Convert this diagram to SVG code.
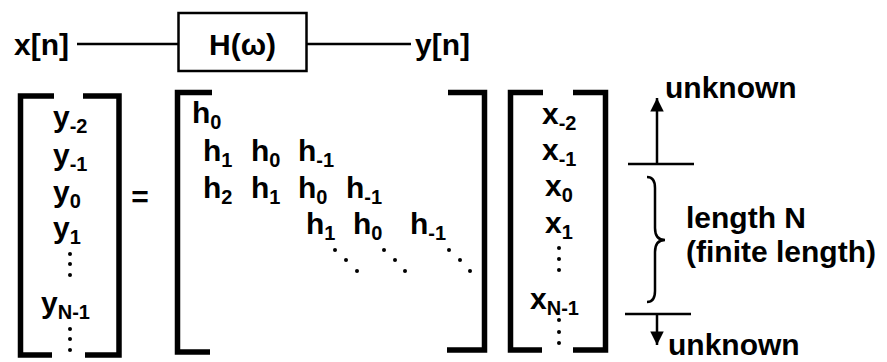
<svg xmlns="http://www.w3.org/2000/svg" width="887" height="362" viewBox="0 0 887 362">
<defs>
<style>
text{font-family:"Liberation Sans",Arial,sans-serif;font-weight:bold;font-size:30px;fill:#000}
.s{font-size:20px}
.br{fill:none;stroke:#000;stroke-width:5.5}
.ln{fill:none;stroke:#000;stroke-width:2.5}
.dot{fill:#000}
</style>
<marker id="ah" viewBox="0 0 10 10" refX="10" refY="5" markerWidth="5.6" markerHeight="5.4" markerUnits="strokeWidth" orient="auto">
<path d="M0,0 L10,5 L0,10 Z" fill="#000"/>
</marker>
</defs>
<rect width="887" height="362" fill="#fff"/>

<g id="connectors">
<line class="ln" x1="77" y1="44" x2="178" y2="44"/>
<line class="ln" x1="307" y1="44" x2="411" y2="44"/>
<line class="ln" x1="657" y1="164" x2="657" y2="98" marker-end="url(#ah)"/>
<line class="ln" x1="657" y1="314" x2="657" y2="345" marker-end="url(#ah)"/>
<line class="ln" x1="628" y1="164" x2="694" y2="164"/>
<line class="ln" x1="625" y1="314" x2="691" y2="314"/>
<path class="ln" d="M647,177 Q655,177 655,188 L655,228 Q655,240 665,240 Q655,240 655,252 L655,291 Q655,302 647,302" stroke-width="2"/>
</g>

<g id="input"><text x="14" y="55">x[n]</text></g>
<g id="system">
<rect x="178.5" y="13" width="128" height="58" class="ln"/>
<text x="242.5" y="55" text-anchor="middle">H(ω)</text>
</g>
<g id="output"><text x="415" y="55">y[n]</text></g>

<g id="yvec">
<path class="br" d="M54,96 H20.5 V355 H52"/>
<path class="br" d="M83,96 H119 V355 H85"/>
<text x="53" y="127">y<tspan class="s" dy="6">-2</tspan></text>
<text x="53" y="165">y<tspan class="s" dy="6">-1</tspan></text>
<text x="53" y="202">y<tspan class="s" dy="6">0</tspan></text>
<text x="53" y="238">y<tspan class="s" dy="6">1</tspan></text>
<circle class="dot" cx="70" cy="254" r="2"/><circle class="dot" cx="70" cy="264" r="2"/><circle class="dot" cx="70" cy="275" r="2"/>
<text x="41" y="313">y<tspan class="s" dy="6">N-1</tspan></text>
<circle class="dot" cx="70" cy="329" r="2"/><circle class="dot" cx="70" cy="339" r="2"/><circle class="dot" cx="70" cy="350" r="2"/>
</g>

<g id="equals"><text x="140" y="207" text-anchor="middle">=</text></g>

<g id="hmat">
<path class="br" d="M212,92.5 H177.5 V352 H210"/>
<path class="br" d="M448,92.5 H484.5 V350 H447"/>
<text x="192" y="123">h<tspan class="s" dy="6">0</tspan></text>
<text x="203" y="161">h<tspan class="s" dy="6">1</tspan></text>
<text x="251" y="161">h<tspan class="s" dy="6">0</tspan></text>
<text x="298" y="161">h<tspan class="s" dy="6">-1</tspan></text>
<text x="203" y="198">h<tspan class="s" dy="6">2</tspan></text>
<text x="251" y="198">h<tspan class="s" dy="6">1</tspan></text>
<text x="298" y="198">h<tspan class="s" dy="6">0</tspan></text>
<text x="346" y="198">h<tspan class="s" dy="6">-1</tspan></text>
<text x="306" y="234">h<tspan class="s" dy="6">1</tspan></text>
<text x="353" y="234">h<tspan class="s" dy="6">0</tspan></text>
<text x="410" y="234">h<tspan class="s" dy="6">-1</tspan></text>
<circle class="dot" cx="335" cy="250" r="2"/><circle class="dot" cx="346" cy="260" r="2"/><circle class="dot" cx="357" cy="271" r="2"/>
<circle class="dot" cx="384" cy="250" r="2"/><circle class="dot" cx="395" cy="260" r="2"/><circle class="dot" cx="405" cy="271" r="2"/>
<circle class="dot" cx="449" cy="250" r="2"/><circle class="dot" cx="460" cy="260" r="2"/><circle class="dot" cx="470" cy="271" r="2"/>
</g>

<g id="xvec">
<path class="br" d="M543,92.5 H510.5 V350 H542"/>
<path class="br" d="M573,92.5 H605.5 V350 H573"/>
<text x="542" y="124">x<tspan class="s" dy="6">-2</tspan></text>
<text x="542" y="160">x<tspan class="s" dy="6">-1</tspan></text>
<text x="545" y="196">x<tspan class="s" dy="6">0</tspan></text>
<text x="545" y="233">x<tspan class="s" dy="6">1</tspan></text>
<circle class="dot" cx="559" cy="248" r="2"/><circle class="dot" cx="559" cy="259" r="2"/><circle class="dot" cx="559" cy="270" r="2"/>
<text x="530" y="309">x<tspan class="s" dy="6">N-1</tspan></text>
<circle class="dot" cx="559" cy="320" r="2"/><circle class="dot" cx="559" cy="332" r="2"/><circle class="dot" cx="559" cy="343" r="2"/>
</g>

<g id="labels">
<text x="665" y="98">unknown</text>
<text x="686" y="228">length N</text>
<text x="686" y="262">(finite length)</text>
<text x="668" y="355">unknown</text>
</g>
</svg>
